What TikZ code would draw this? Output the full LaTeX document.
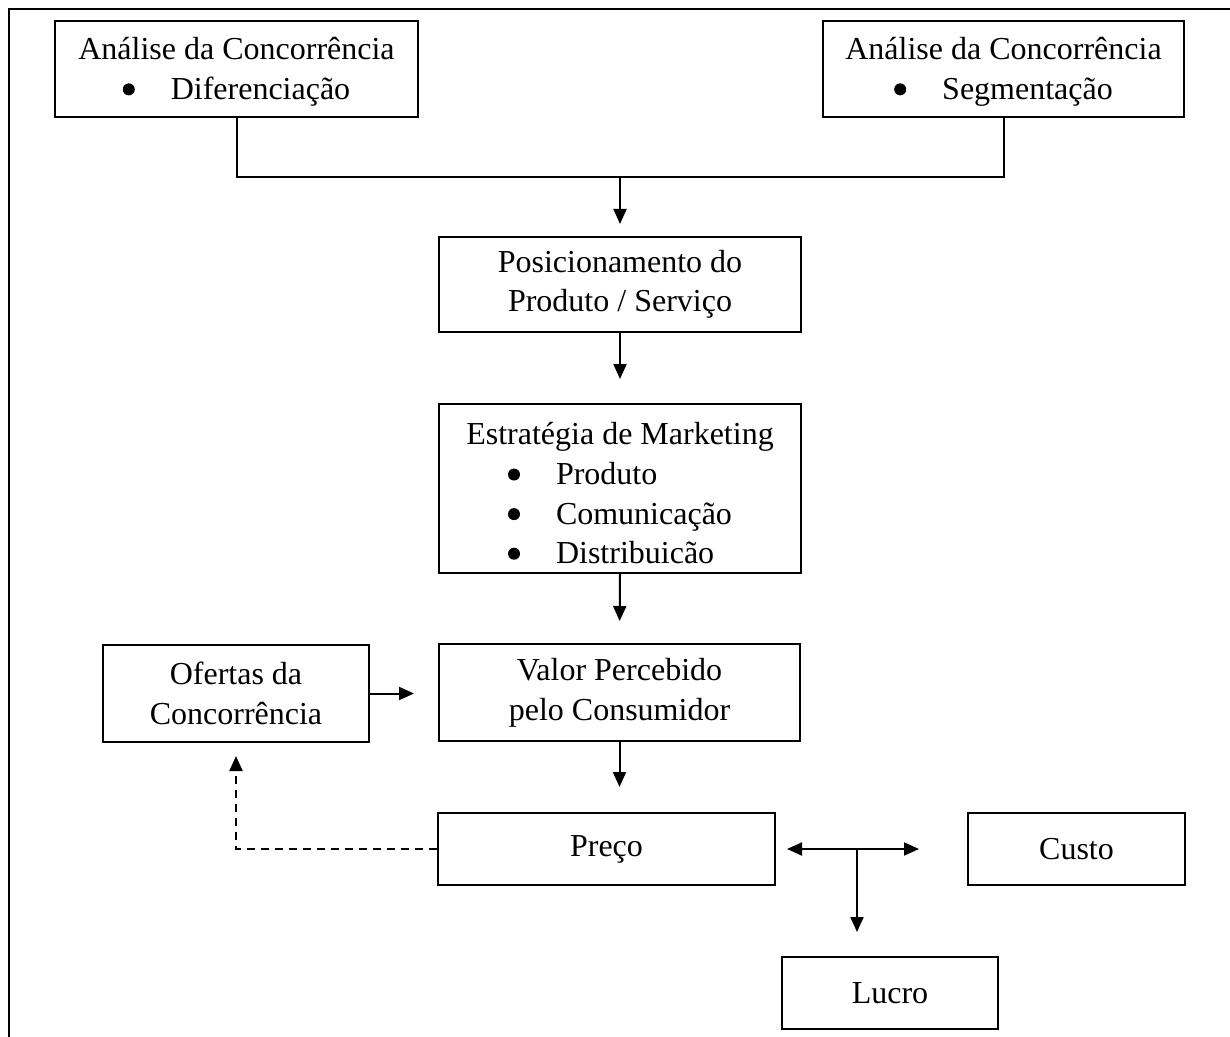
\documentclass[tikz,border=0pt]{standalone}
\usepackage{fontspec}
\setmainfont{Liberation Serif}
\usetikzlibrary{arrows.meta}
\newcommand{\bul}{\tikz[baseline=-5pt]\fill (0,0) circle (3pt);}
\newcommand{\itm}[1]{\makebox[112pt][l]{\bul\hspace{18pt}#1}}
\begin{document}
\begin{tikzpicture}[x=0.5pt,y=-0.5pt,
  box/.style n args={2}{draw,line width=1pt,inner sep=0pt,align=center,
    minimum width=#1,minimum height=#2,font=\fontsize{16}{19.8}\selectfont},
  conn/.style={line width=1pt},
  arr/.style={conn,-{Triangle[length=7.5pt,width=6.5pt]}},
  dasharr/.style={arr,dash pattern=on 4pt off 3pt},
]
\useasboundingbox (0,0) rectangle (1230,1037);
% outer frame
\draw[line width=1.2pt] (1230,9) -- (9,9) -- (9,1037);

\node[box={181.5pt}{48pt}] (b1) at (236.5,69) {\rule{0pt}{14pt}Análise da Concorrência\\ \bul\hspace{18pt}Diferenciação};
\node[box={180.5pt}{48pt}] (b2) at (1003.5,69) {\rule{0pt}{14pt}Análise da Concorrência\\ \bul\hspace{18pt}Segmentação};
\node[box={181pt}{47.5pt}] (b3) at (620,284.5) {Posicionamento do\\ Produto / Serviço};
\node[box={181pt}{84.5pt}] (b4) at (620,488.5) {\rule{0pt}{16pt}Estratégia de Marketing\\ \itm{Produto}\\ \itm{Comunicação}\\ \itm{Distribuicão}};
\node[box={180.5pt}{48.5pt}] (val) at (619.5,692.5) {Valor Percebido\\ pelo Consumidor};
\node[box={133pt}{48.5pt}] (of) at (236,693.5) {Ofertas da\\ Concorrência};
\node[box={168.5pt}{36pt}] (pr) at (606.5,849) {Preço};
\node[box={108.5pt}{36pt}] (cu) at (1076.5,849) {Custo};
\node[box={108pt}{36pt}] (lu) at (890,993) {Lucro};

\coordinate (m) at (620,177);
\coordinate (t) at (857,849);

\draw[conn] (b1.south) |- (m) -| (b2.south);
\draw[arr,shorten >=6pt] (m) -- (b3.north);
\draw[arr,shorten >=12pt] (b3.south) -- (b4.north);
\draw[arr,shorten >=11pt] (b4.south) -- (val.north);
\draw[arr,shorten >=12.5pt] (val.south) -- (val.south |- pr.north);
\draw[arr,shorten >=12pt] (of.east) -- (of.east -| val.west);
\draw[dasharr,shorten >=6.5pt] (pr.west) -| (of.south);
\draw[arr,shorten >=5.5pt] (t) -- (pr.east);
\draw[arr,shorten >=24pt] (t) -- (cu.west);
\draw[arr,shorten >=12pt] (t) -- (t |- lu.north);
\end{tikzpicture}
\end{document}
